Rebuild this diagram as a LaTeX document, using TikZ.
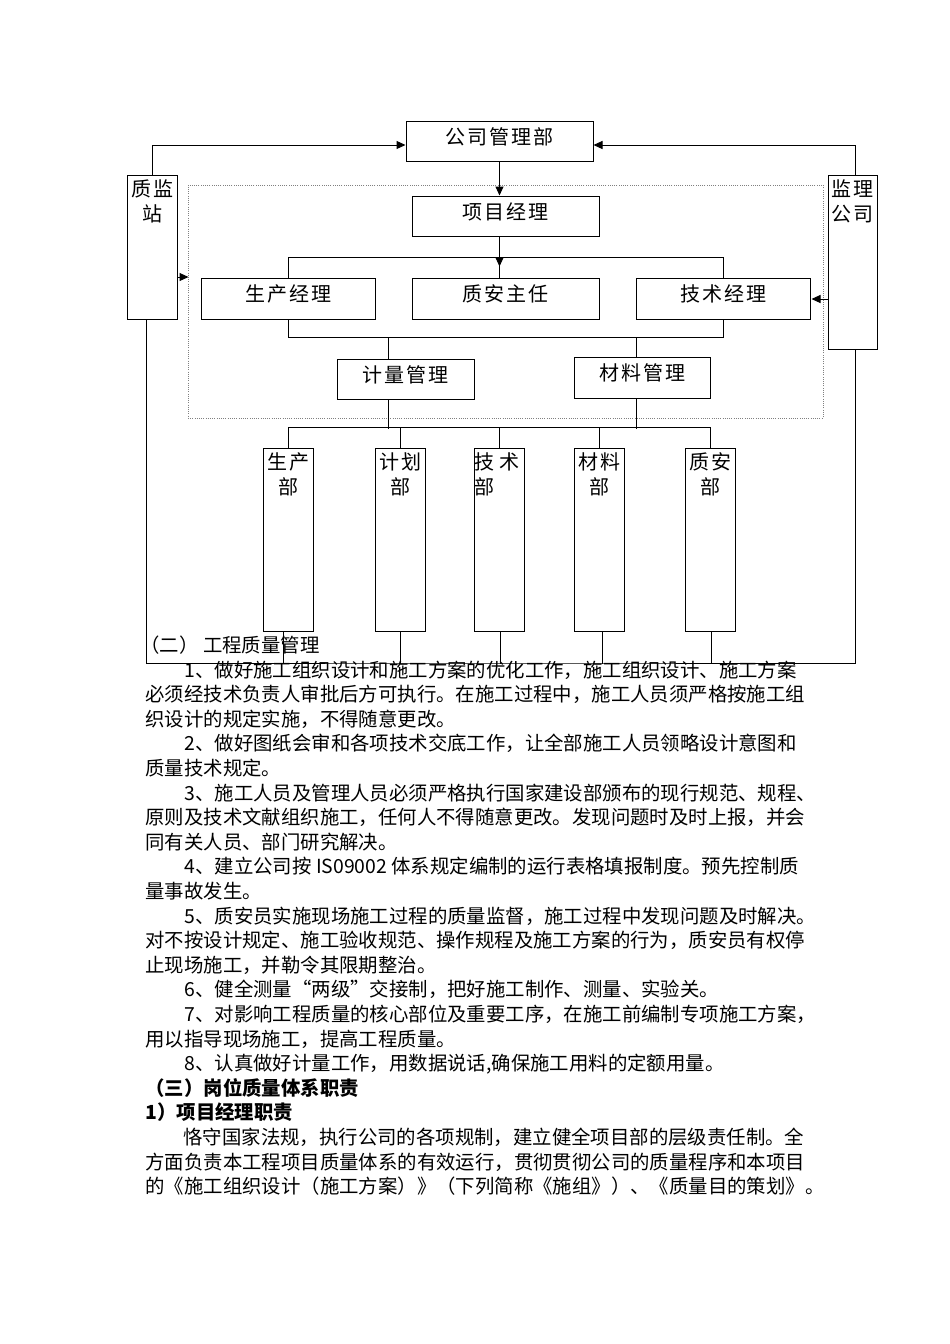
\documentclass[tikz,border=0pt]{standalone}
\usepackage{fontspec}
\setmainfont{Noto Sans CJK SC}
\newfontfamily\boxfont[LetterSpace=10]{Noto Sans CJK SC}
\usetikzlibrary{arrows.meta}

\begin{document}
\begin{tikzpicture}[x=1pt,y=-1pt,line width=1pt,>={Triangle[length=9pt,width=8pt]},
		box/.style={draw,rectangle,inner sep=0pt,text depth=10pt,font=\boxfont\fontsize{20}{25}\selectfont},
		tallbox/.style={draw,rectangle,inner sep=0pt,minimum width=50pt},
		tag/.style={anchor=north,align=center,inner sep=0pt,font=\boxfont\fontsize{20}{25}\selectfont},
		frame/.style={draw=gray,line width=0.7pt,dash pattern=on 1pt off 1.2pt,inner sep=0pt},
		body/.style={anchor=base west,inner sep=0pt,font=\fontsize{19.4}{24.6}\selectfont}]
		\useasboundingbox (0,0) rectangle (950,1344);
		% Projektrahmen
		\node[frame,minimum width=635pt,minimum height=233pt] (xmb) at (505.5,301.5) {};
		% obere Ebene
		\node[box,minimum width=187pt,minimum height=40pt] (gsglb) at (499.5,141) {公司管理部};
		\node[box,minimum width=187pt,minimum height=40pt] (xmjl) at (505.5,216) {项目经理};
		\node[box,minimum width=174pt,minimum height=41pt] (scjl) at (288,298.5) {生产经理};
		\node[box,minimum width=187pt,minimum height=41pt] (zazr) at (505.5,298.5) {质安主任};
		\node[box,minimum width=174pt,minimum height=41pt] (jsjl) at (723,298.5) {技术经理};
		\node[box,minimum width=137pt,minimum height=40pt] (jlgl) at (405.5,379) {计量管理};
		\node[box,minimum width=136pt,minimum height=41pt] (clgl) at (642,377.5) {材料管理};
		% Seiten
		\node[tallbox,minimum height=144pt] (zjz) at (152,247) {};
		\node[tag] (zjz-t) at ([yshift=-5pt]zjz.north) {质监\\站};
		\node[tallbox,minimum width=49pt,minimum height=174pt] (jlgs) at (852.5,262) {};
		\node[tag] (jlgs-t) at ([yshift=-5pt]jlgs.north) {监理\\公司};
		% Abteilungen
		\node[tallbox,minimum height=183pt] (scb) at (288,539.5) {};
		\node[tag] (scb-t) at ([yshift=-5pt]scb.north) {生产\\部};
		\node[tallbox,minimum height=183pt] (jhb) at (400,539.5) {};
		\node[tag] (jhb-t) at ([yshift=-5pt]jhb.north) {计划\\部};
		\node[tallbox,minimum height=183pt] (jsb) at (499,539.5) {};
		\node[tag,anchor=north west,align=left] (jsb-t) at ([yshift=-5pt]jsb.north west) {技\hspace{5pt}术\\部};
		\node[tallbox,minimum height=183pt] (clb) at (599,539.5) {};
		\node[tag] (clb-t) at ([yshift=-5pt]clb.north) {材料\\部};
		\node[tallbox,minimum height=183pt] (zab) at (710,539.5) {};
		\node[tag] (zab-t) at ([yshift=-5pt]zab.north) {质安\\部};
		\coordinate (base) at (500,663);
		% Verbindungen
		\draw[->] (zjz.north) |- ([yshift=-4pt]gsglb.west);
		\draw[->] ([xshift=2.5pt]jlgs.north) |- ([yshift=-4pt]gsglb.east);
		\draw[->] (gsglb.south) -- (gsglb.south |- xmjl.north);
		\draw (gsglb.south |- xmjl.south) -- (gsglb.south |- zazr.north);
		\draw[->] (gsglb.south |- xmjl.south) -- ++(0,30);
		\draw (scjl.north) -- ++(0,-20) -| (jsjl.north);
		\draw (scjl.south) -- ++(0,18) -| (jsjl.south);
		\draw ([xshift=-17.5pt]jlgl.north) -- ++(0,-22);
		\draw ([xshift=-6pt]clgl.north) -- ++(0,-20);
		\draw ([xshift=-17.5pt]jlgl.south) -- ++(0,29);
		\draw ([xshift=-6pt]clgl.south) -- ++(0,30);
		\draw (scb.north) -- ++(0,-20) -| (zab.north);
		\draw (jhb.north) -- ++(0,-20);
		\draw (jsb.north) -- ++(0,-20);
		\draw (clb.north) -- ++(0,-20);
		\draw[->] ([yshift=-30pt]zjz.east) -- ++(11,0);
		\draw[->] ([yshift=-37pt]jlgs.west) -- ++(-16,0);
		\draw ([xshift=-6pt]zjz.south) |- (base) -| ([xshift=2.5pt]jlgs.south);
		\draw ([xshift=-5pt]scb.south) -- ++(0,32);
		\draw (jhb.south) -- ++(0,32);
		\draw ([xshift=1pt]jsb.south) -- ++(0,32);
		\draw ([xshift=3pt]clb.south) -- ++(0,32);
		\draw ([xshift=1pt]zab.south) -- ++(0,32);
		% Text
		\node[body] (t0) at (140,652.4) {（二） 工程质量管理};
		\node[body] (t1) at (184,677.0) {1、做好施工组织设计和施工方案的优化工作，施工组织设计、施工方案};
		\node[body] (t2) at (145,701.6) {必须经技术负责人审批后方可执行。在施工过程中，施工人员须严格按施工组};
		\node[body] (t3) at (145,726.2) {织设计的规定实施，不得随意更改。};
		\node[body] (t4) at (184,750.8) {2、做好图纸会审和各项技术交底工作，让全部施工人员领略设计意图和};
		\node[body] (t5) at (145,775.4) {质量技术规定。};
		\node[body] (t6) at (184,800.0) {3、施工人员及管理人员必须严格执行国家建设部颁布的现行规范、规程、};
		\node[body] (t7) at (145,824.6) {原则及技术文献组织施工，任何人不得随意更改。发现问题时及时上报，并会};
		\node[body] (t8) at (145,849.2) {同有关人员、部门研究解决。};
		\node[body] (t9) at (184,873.8) {4、建立公司按 IS09002 体系规定编制的运行表格填报制度。预先控制质};
		\node[body] (t10) at (145,898.4) {量事故发生。};
		\node[body] (t11) at (184,923.0) {5、质安员实施现场施工过程的质量监督，施工过程中发现问题及时解决。};
		\node[body] (t12) at (145,947.6) {对不按设计规定、施工验收规范、操作规程及施工方案的行为，质安员有权停};
		\node[body] (t13) at (145,972.2) {止现场施工，并勒令其限期整治。};
		\node[body] (t14) at (184,996.8) {6、健全测量“两级”交接制，把好施工制作、测量、实验关。};
		\node[body] (t15) at (184,1021.4) {7、对影响工程质量的核心部位及重要工序，在施工前编制专项施工方案，};
		\node[body] (t16) at (145,1046.0) {用以指导现场施工，提高工程质量。};
		\node[body] (t17) at (184,1070.6) {8、认真做好计量工作，用数据说话,确保施工用料的定额用量。};
		\node[body] (t18) at (145,1095.2) {\bfseries （三）岗位质量体系职责};
		\node[body] (t19) at (145,1119.8) {\bfseries 1）项目经理职责};
		\node[body] (t20) at (183,1144.4) {恪守国家法规，执行公司的各项规制，建立健全项目部的层级责任制。全};
		\node[body] (t21) at (145,1169.0) {方面负责本工程项目质量体系的有效运行，贯彻贯彻公司的质量程序和本项目};
		\node[body] (t22) at (145,1193.6) {的《施工组织设计（施工方案）》（下列简称《施组》）、《质量目的策划》。};
\end{tikzpicture}
\end{document}
